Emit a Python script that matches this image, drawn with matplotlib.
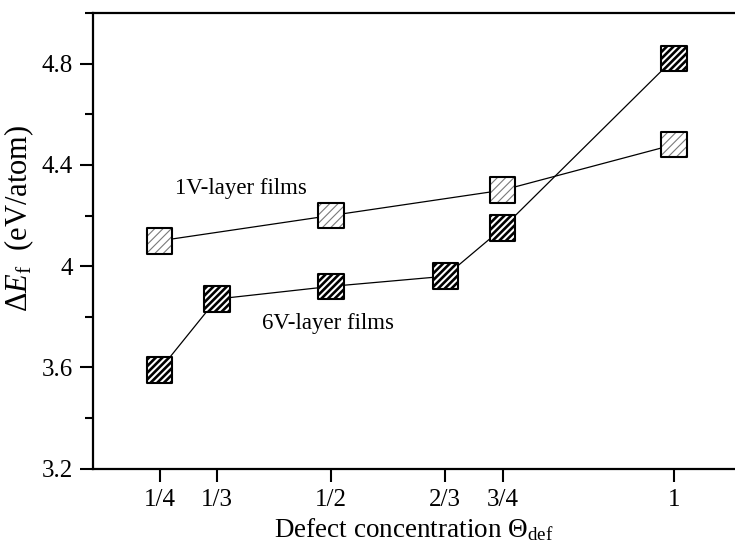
import matplotlib
matplotlib.use('Agg')
import matplotlib.pyplot as plt
from matplotlib.ticker import FixedLocator, MultipleLocator, FormatStrFormatter

# Defect concentrations and formation energies (eV/atom)
conc = [1 / 4, 1 / 3, 1 / 2, 2 / 3, 3 / 4, 1.0]
conc_labels = ['1/4', '1/3', '1/2', '2/3', '3/4', '1']

conc_1v = [1 / 4, 1 / 2, 3 / 4, 1.0]
ef_1v = [4.10, 4.20, 4.30, 4.48]

conc_6v = [1 / 4, 1 / 3, 1 / 2, 2 / 3, 3 / 4, 1.0]
ef_6v = [3.59, 3.87, 3.92, 3.96, 4.15, 4.82]

plt.rcParams['font.family'] = ['Liberation Serif', 'DejaVu Serif']
plt.rcParams['mathtext.fontset'] = 'custom'
plt.rcParams['mathtext.rm'] = 'Liberation Serif'
plt.rcParams['mathtext.it'] = 'Liberation Serif:italic'
plt.rcParams['font.size'] = 16

fig = plt.figure(figsize=(7.35, 5.47), dpi=100)
ax = fig.add_axes([0.1265, 0.1433, 0.8735, 0.8329])

# connecting lines go under the markers
ax.plot(conc_1v, ef_1v, color='black', lw=0.9, zorder=2)
ax.plot(conc_6v, ef_6v, color='black', lw=0.9, zorder=2)


def hatched_squares(x, y, hatch, hatch_color, hatch_lw):
    plt.rcParams['hatch.color'] = hatch_color
    plt.rcParams['hatch.linewidth'] = hatch_lw
    fill = ax.scatter(x, y, s=338, marker='s', facecolor='white',
                      edgecolor=hatch_color, linewidths=0, hatch=hatch,
                      zorder=3)
    if hasattr(fill, 'set_hatch_linewidth'):
        fill.set_hatch_linewidth(hatch_lw)
    ax.scatter(x, y, s=338, marker='s', facecolor='none',
               edgecolor='black', linewidths=1.5, zorder=4)


hatched_squares(conc_1v, ef_1v, '////', '#7a7a7a', 0.8)
hatched_squares(conc_6v, ef_6v, '/////', 'black', 1.9)

ax.text(0.272, 4.283, '1V-layer films', fontsize=16.5)
ax.text(0.399, 3.751, '6V-layer films', fontsize=16.5)

ax.set_xlim(0.1528, 1.089)
ax.set_ylim(3.2, 5.0)

ax.xaxis.set_major_locator(FixedLocator(conc))
ax.set_xticklabels(conc_labels)
ax.yaxis.set_major_locator(MultipleLocator(0.4))
ax.yaxis.set_minor_locator(MultipleLocator(0.2))
ax.yaxis.set_major_formatter(FormatStrFormatter('%g'))

ax.tick_params(axis='both', which='major', direction='out', length=9.5,
               width=1.5, labelsize=18, pad=5)
ax.tick_params(axis='y', which='minor', direction='out', length=6, width=1.5)
ax.tick_params(top=False, right=False)

for side in ['left', 'bottom', 'top']:
    ax.spines[side].set_linewidth(1.6)
ax.spines['right'].set_visible(False)

ax.set_xlabel(r'Defect concentration $\Theta_{\mathrm{def}}$', fontsize=19.5,
              labelpad=4)
ax.set_ylabel(r'$\Delta E_{\mathrm{f}}$  (eV/atom)', fontsize=22)
ax.yaxis.set_label_coords(-0.088, 0.55)

fig.savefig('out.png', dpi=100)
